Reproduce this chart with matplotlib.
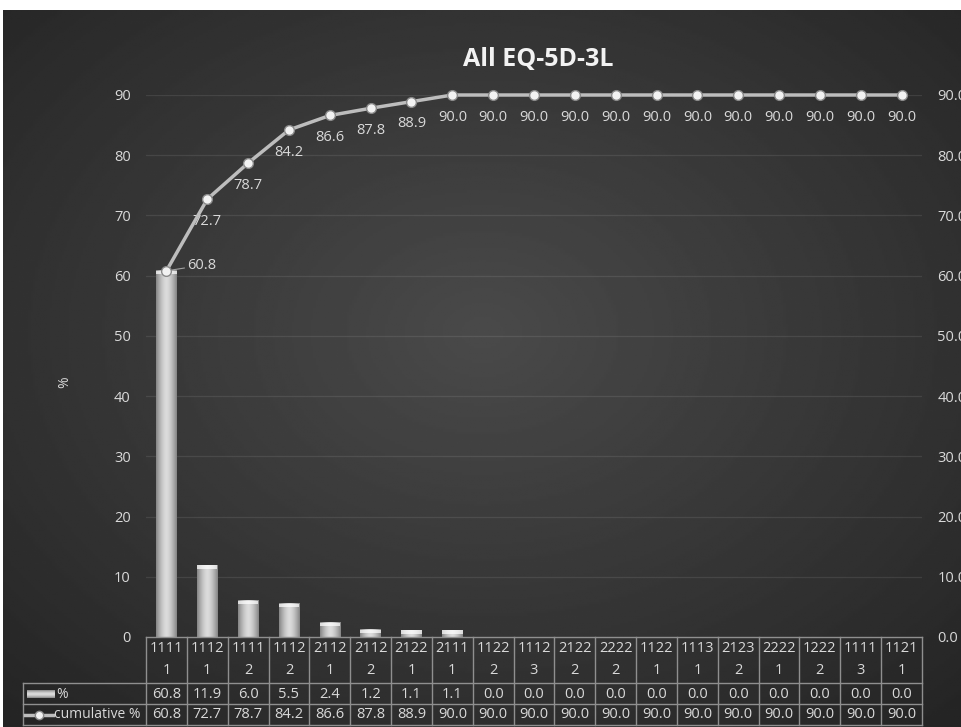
import matplotlib
matplotlib.use('Agg')
import matplotlib.pyplot as plt
import numpy as np
from matplotlib import transforms
from matplotlib.lines import Line2D
from matplotlib.patches import Rectangle

# ===== data =====
codes = ['1111\n1', '1112\n1', '1111\n2', '1112\n2', '2112\n1', '2112\n2', '2122\n1',
         '2111\n1', '1122\n2', '1112\n3', '2122\n2', '2222\n2', '1122\n1', '1113\n1',
         '2123\n2', '2222\n1', '1222\n2', '1111\n3', '1121\n1']
pct = [60.8, 11.9, 6.0, 5.5, 2.4, 1.2, 1.1, 1.1, 0.0, 0.0, 0.0, 0.0, 0.0, 0.0,
       0.0, 0.0, 0.0, 0.0, 0.0]
cum = [60.8, 72.7, 78.7, 84.2, 86.6, 87.8, 88.9, 90.0, 90.0, 90.0, 90.0, 90.0, 90.0,
       90.0, 90.0, 90.0, 90.0, 90.0, 90.0]
yticks = [0, 10, 20, 30, 40, 50, 60, 70, 80, 90]

TXT = '#d9d9d9'
LINE = '#8f8f8f'
FS = 10.5
plt.rcParams['font.family'] = ['Open Sans', 'DejaVu Sans']

W, H = 962, 727
fig = plt.figure(figsize=(W / 100, H / 100), dpi=100)
fig.patch.set_facecolor('white')


def fx(px):
    return px / W


def fy(py):
    return 1 - py / H


# dark radial background
bg = fig.add_axes([fx(3), 0, 1 - fx(3), fy(10)])
yy, xx = np.mgrid[0:1:300j, 0:1:400j]
r = np.sqrt(((xx - 0.5) / 0.75) ** 2 + ((yy - 0.45) / 0.75) ** 2)
bg.imshow(0.29 - 0.15 * r, cmap='gray', vmin=0, vmax=1, extent=[0, 1, 0, 1], aspect='auto')
bg.axis('off')

# main axes
L, R, T, B = 146, 922, 95, 637
ax = fig.add_axes([fx(L), fy(B), fx(R) - fx(L), fy(T) - fy(B)])
ax.patch.set_alpha(0)
x = np.arange(len(codes))

for yv in yticks[1:]:
    ax.axhline(yv, color='white', alpha=0.09, lw=0.9, zorder=1)

bars = ax.bar(x, pct, 0.5, color='none', edgecolor='none', zorder=2)
t = np.linspace(-1, 1, 60)
prof = 0.86 - 0.34 * np.abs(t) ** 1.6
for b in bars:
    h = b.get_height()
    if h <= 0:
        continue
    ax.imshow(prof[None, :], cmap='gray', vmin=0, vmax=1,
              extent=[b.get_x(), b.get_x() + b.get_width(), 0, h],
              aspect='auto', clip_path=b, zorder=2)
    cap = min(0.55, h * 0.5)
    ax.add_patch(Rectangle((b.get_x(), h - cap), b.get_width(), cap,
                           color='white', alpha=0.7, lw=0, zorder=3))

ax.plot(x, cum, color='#bdbdbd', lw=2.5, marker='o', ms=7, mfc='#f2f2f2',
        mec='#8a8a8a', mew=1, zorder=4, clip_on=False)

for i, v in enumerate(cum):
    if i == 0:
        ax.annotate(f'{v:.1f}', (x[i], v), xytext=(15, 4), textcoords='offset points',
                    ha='left', va='center', color=TXT, fontsize=FS,
                    arrowprops=dict(arrowstyle='-', color='#a0a0a0', lw=0.8,
                                    shrinkA=0, shrinkB=4))
    else:
        ax.annotate(f'{v:.1f}', (x[i], v), xytext=(0, -16), textcoords='offset points',
                    ha='center', va='center', color=TXT, fontsize=FS)

ax.set_xlim(-0.5, len(codes) - 0.5)
ax.set_ylim(0, 90)
ax.set_yticks(yticks)
ax.set_yticklabels([str(v) for v in yticks])
ax.set_xticks([])
ax.tick_params(axis='y', length=0, pad=11, colors=TXT, labelsize=FS)
for s in ax.spines.values():
    s.set_visible(False)

ax2 = ax.twinx()
ax2.set_ylim(0, 90)
ax2.set_yticks(yticks)
ax2.set_yticklabels([f'{v:.1f}' for v in yticks])
ax2.tick_params(axis='y', length=0, pad=11, colors=TXT, labelsize=FS)
for s in ax2.spines.values():
    s.set_visible(False)

fig.text(fx(538), fy(59), 'All EQ-5D-3L', ha='center', va='center',
         color='#f2f2f2', fontsize=18, fontweight='bold')
fig.text(fx(65), fy(382), '%', ha='center', va='center', rotation=90,
         color=TXT, fontsize=10)

# ===== data table =====
trans = transforms.blended_transform_factory(ax.transData, fig.transFigure)
for bnd in np.arange(len(codes) + 1) - 0.5:
    fig.add_artist(Line2D([bnd, bnd], [fy(B), fy(725)], transform=trans,
                          color=LINE, lw=1))
fig.add_artist(Line2D([fx(L), fx(R)], [fy(B), fy(B)], color=LINE, lw=1))
for py in (683, 704, 725):
    fig.add_artist(Line2D([fx(23), fx(R)], [fy(py), fy(py)], color=LINE, lw=1))
fig.add_artist(Line2D([fx(23), fx(23)], [fy(683), fy(725)], color=LINE, lw=1))

for i, c in enumerate(codes):
    top, bot = c.split('\n')
    fig.text(x[i], fy(649), top, transform=trans, ha='center', va='center',
             color=TXT, fontsize=FS)
    fig.text(x[i], fy(671), bot, transform=trans, ha='center', va='center',
             color=TXT, fontsize=FS)
    fig.text(x[i], fy(694), f'{pct[i]:.1f}', transform=trans, ha='center',
             va='center', color=TXT, fontsize=FS)
    fig.text(x[i], fy(715), f'{cum[i]:.1f}', transform=trans, ha='center',
             va='center', color=TXT, fontsize=FS)

# legend keys in table
kx = fig.add_axes([fx(27), fy(698), fx(55) - fx(27), fy(690) - fy(698)])
kx.imshow(prof[None, :].T @ np.ones((1, 60)), cmap='gray', vmin=0, vmax=1,
          aspect='auto')
kx.axis('off')
fig.text(fx(56), fy(694), '%', ha='left', va='center', color=TXT, fontsize=10)
fig.add_artist(Line2D([fx(25), fx(53)], [fy(715), fy(715)], color='#bdbdbd', lw=2.5))
fig.add_artist(Line2D([fx(39)], [fy(715)], marker='o', ms=6, mfc='#f2f2f2',
                      mec='#8a8a8a', mew=1))
fig.text(fx(54), fy(715), 'cumulative %', ha='left', va='center', color=TXT,
         fontsize=10)

plt.savefig('out.png', dpi=100, facecolor=fig.get_facecolor())
plt.close()
